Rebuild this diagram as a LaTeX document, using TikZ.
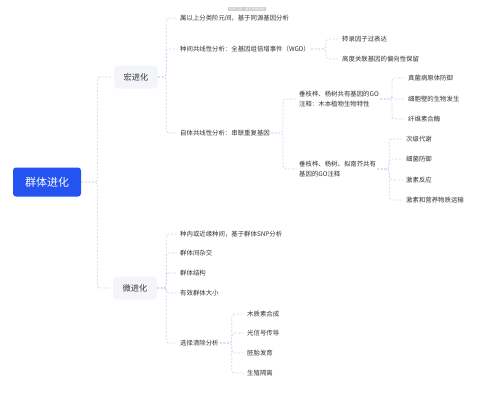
\documentclass[tikz,border=0pt]{standalone}
\usepackage{fontspec}
\usepackage{tikz}
\usetikzlibrary{positioning}
\newfontfamily\cjk{Noto Sans CJK SC}
\definecolor{rootc}{RGB}{36,84,240}
\definecolor{boxc}{RGB}{243,245,249}
\definecolor{linec}{RGB}{206,214,244}
\definecolor{textc}{RGB}{51,51,51}

\tikzset{
  conn/.style={draw=linec, dash pattern=on 2pt off 1.6pt, line width=0.75pt, rounded corners=3pt, shorten >=2pt},
  leaf/.style={anchor=west, inner sep=1pt, text=textc, align=left, font=\cjk\fontsize{6.4}{9.5}\selectfont},
  branch/.style={fill=boxc, rounded corners=4pt, minimum width=44pt, minimum height=23pt, text=textc, font=\cjk\fontsize{8.2}{10}\selectfont},
  rootbox/.style={fill=rootc, rounded corners=3pt, minimum width=68pt, minimum height=29pt, text=white, font=\cjk\fontsize{11}{13}\selectfont},
  mark tag/.style={fill=gray!40, inner sep=1pt, text=white, font=\cjk\fontsize{3.2}{3.6}\selectfont}
}

\begin{document}
\begin{tikzpicture}[x=1pt,y=-1pt]
\useasboundingbox (0,0) rectangle (503,413);

\node[mark tag] (tag) at (247,9) {制作工具：幕布思维导图};

\node[rootbox] (root) at (47,182) {群体进化};
\node[branch] (macro) at (136,77) {宏进化};
\node[branch] (micro) at (135,288) {微进化};

% macro branch
\node[leaf] (m1) at (179,18) {属以上分类阶元间，基于同源基因分析};
\node[leaf] (m2) at (179,49) {种间共线性分析：全基因组倍增事件（WGD）};
\node[leaf] (m3) at (179,133) {自体共线性分析：串联重复基因};

\node[leaf] (w1) at (341,39) {转录因子过表达};
\node[leaf] (w2) at (341,59) {高度关联基因的偏向性保留};

\node[leaf] (s1) at (298,99) {垂枝桦、杨树共有基因的GO\\注释：木本植物生物特性};
\node[leaf] (s2) at (298,169) {垂枝桦、杨树、拟南芥共有\\基因的GO注释};

\node[leaf] (a1) at (407,78) {真菌病原体防御};
\node[leaf] (a2) at (407,99) {细胞壁的生物发生};
\node[leaf] (a3) at (407,119) {纤维素合酶};

\node[leaf] (b1) at (405,139) {次级代谢};
\node[leaf] (b2) at (405,159) {细菌防御};
\node[leaf] (b3) at (405,180) {激素反应};
\node[leaf] (b4) at (405,200) {激素和营养物质运输};

% micro branch
\node[leaf] (n1) at (179,234) {种内或近缘种间，基于群体SNP分析};
\node[leaf] (n2) at (179,253) {群体间杂交};
\node[leaf] (n3) at (179,273) {群体结构};
\node[leaf] (n4) at (179,293) {有效群体大小};
\node[leaf] (n5) at (179,343) {选择清除分析};

\node[leaf] (c1) at (246,314) {木质素合成};
\node[leaf] (c2) at (246,333) {光信号传导};
\node[leaf] (c3) at (246,353) {胚胎发育};
\node[leaf] (c4) at (246,373) {生殖隔离};

% connectors
\foreach \t in {macro,micro}
  \draw[conn] (root.east) -- ++(16,0) |- (\t.west);
\foreach \t in {m1,m2,m3}
  \draw[conn] (macro.east) -- ++(8,0) |- (\t.west);
\foreach \t in {w1,w2}
  \draw[conn] (m2.east) -- ++(15,0) |- (\t.west);
\foreach \t in {s1,s2}
  \draw[conn] (m3.east) -- ++(12,0) |- (\t.west);
\foreach \t in {a1,a2,a3}
  \draw[conn] (s1.east) -- ++(12,0) |- (\t.west);
\foreach \t in {b1,b2,b3,b4}
  \draw[conn] (s2.east) -- ++(12,0) |- (\t.west);
\foreach \t in {n1,n2,n3,n4,n5}
  \draw[conn] (micro.east) -- ++(9,0) |- (\t.west);
\foreach \t in {c1,c2,c3,c4}
  \draw[conn] (n5.east) -- ++(12,0) |- (\t.west);
\end{tikzpicture}
\end{document}
